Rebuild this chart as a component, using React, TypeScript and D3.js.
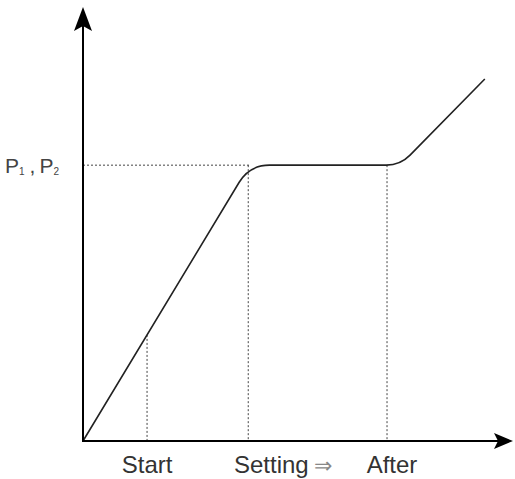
import React from "react";
import * as d3 from "d3";

// knee points of the pressure curve (x: time, y: pressure)
const curveX = [0, 39, 74.3, 94.1];
const curveY = [0, 64, 64, 84];
const cornerRadius = [0, 20, 14, 0];

// marked instants on the time axis
const tickLabels = ["Start", "Setting", "After"];
const tickX = [15, 38.7, 71.2];
const levelLabel = "P";
const levelY = 64;

const width = 515;
const height = 479;
const origin = { x: 83, y: 441 };

const x = d3.scaleLinear().domain([0, 100]).range([origin.x, 510]);
const y = d3.scaleLinear().domain([0, 100]).range([origin.y, 10]);

// y value on the first (rising) segment
const riseY = (v: number) => (curveY[1] / curveX[1]) * v;

const buildCurve = () => {
  const pts = curveX.map((v, i) => [x(v), y(curveY[i])]);
  const p = d3.path();
  p.moveTo(pts[0][0], pts[0][1]);
  for (let i = 1; i < pts.length - 1; i++) {
    const [vx, vy] = pts[i];
    const r = cornerRadius[i];
    const toward = (q: number[]) => {
      const dx = q[0] - vx, dy = q[1] - vy;
      const len = Math.hypot(dx, dy);
      return [vx + (dx / len) * r, vy + (dy / len) * r];
    };
    const a = toward(pts[i - 1]);
    const b = toward(pts[i + 1]);
    p.lineTo(a[0], a[1]);
    p.quadraticCurveTo(vx, vy, b[0], b[1]);
  }
  const last = pts[pts.length - 1];
  p.lineTo(last[0], last[1]);
  return p.toString();
};

const font = "'Liberation Sans', Arial, Helvetica, sans-serif";

export default function App() {
  const dotTop = [y(riseY(tickX[0])), y(levelY), y(levelY)];
  return (
    <svg
      width={width}
      height={height}
      style={{ display: "block", position: "absolute", left: 0, top: 0 }}
    >
      <rect width={width} height={height} fill="#fff" />

      {/* dotted guides */}
      <g stroke="#444" strokeWidth={1} strokeDasharray="2,2" fill="none">
        <line x1={x(0)} x2={x(curveX[1])} y1={y(levelY)} y2={y(levelY)} />
        {tickX.map((t, i) => (
          <line key={i} x1={x(t)} x2={x(t)} y1={dotTop[i]} y2={y(0)} />
        ))}
      </g>

      {/* curve */}
      <path d={buildCurve()} fill="none" stroke="#222" strokeWidth={1.6} />

      {/* axes */}
      <g stroke="#000" strokeWidth={2}>
        <line x1={origin.x} x2={origin.x} y1={origin.y + 1} y2={26} />
        <line x1={origin.x - 1} x2={498} y1={origin.y} y2={origin.y} />
      </g>
      <path d={`M${origin.x},7 L${origin.x + 9},31 L${origin.x},26 L${origin.x - 9},31 Z`} fill="#000" />
      <path d={`M513,${origin.y} L494,${origin.y - 8} L498,${origin.y} L494,${origin.y + 8} Z`} fill="#000" />

      {/* labels */}
      <g fontFamily={font} fontSize={24} fill="#333">
        <text x={x(tickX[0])} y={473} textAnchor="middle">{tickLabels[0]}</text>
        <text x={234} y={473}>
          {tickLabels[1]}
          <tspan fill="#888" fontSize={22} dx={5}>⇒</tspan>
        </text>
        <text x={x(tickX[2]) + 5} y={473} textAnchor="middle">{tickLabels[2]}</text>
      </g>
      <text x={5} y={173} fontFamily={font} fontSize={21} fill="#444">
        {levelLabel}
        <tspan fontSize={10} dy={2}>1</tspan>
        <tspan dy={-2} dx={5}>,</tspan>
        <tspan dx={4}>{levelLabel}</tspan>
        <tspan fontSize={10} dy={2}>2</tspan>
      </text>
    </svg>
  );
}
